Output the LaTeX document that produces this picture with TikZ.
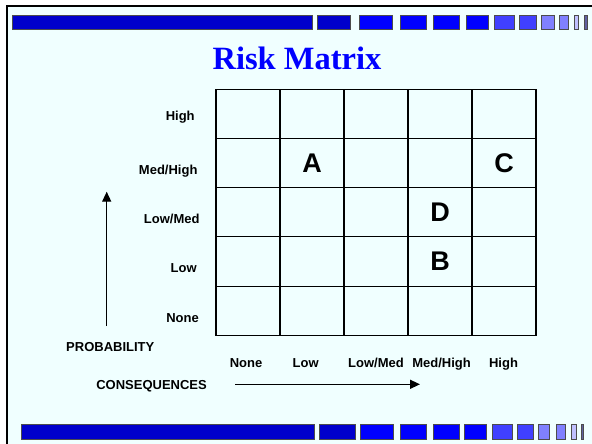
\documentclass[tikz,border=0pt]{standalone}
\usepackage{fontspec}
\setmainfont{Liberation Serif}
\setsansfont{Liberation Sans}
\usetikzlibrary{arrows.meta}
\definecolor{bg}{RGB}{240,255,255}
\definecolor{bdark}{RGB}{0,0,204}
\definecolor{bfull}{RGB}{0,0,255}
\definecolor{bmid}{RGB}{64,64,255}
\definecolor{blight}{RGB}{128,128,255}
\definecolor{bpale}{RGB}{192,192,255}
\definecolor{bgray}{RGB}{96,96,160}
\tikzset{
  barbox/.style={draw=black!70,line width=0.8pt},
  cell/.style={draw=black,line width=1.1pt,minimum width=64pt,minimum height=49.2pt,inner sep=0pt},
  letter/.style={font=\sffamily\bfseries\fontsize{27}{30}\selectfont,inner sep=0pt},
  lab/.style={font=\sffamily\bfseries\fontsize{13}{15}\selectfont,inner sep=0pt,anchor=base},
  axisarrow/.style={line width=1.4pt,-{Triangle[length=10pt,width=9pt]}},
  titletext/.style={font=\rmfamily\bfseries\fontsize{32.5}{36}\selectfont,text=bfull,inner sep=0pt,anchor=base}
}
\begin{document}
\begin{tikzpicture}[x=1pt,y=-1pt]
\useasboundingbox (0,0) rectangle (592,444);
\fill[white] (0,0) rectangle (592,444);
\fill[bg] (6,5) rectangle (592,444);
\draw[line width=2pt] (7,444) -- (7,6) -- (592,6);
% top bar
\foreach \a/\b/\c in {12/312/bdark,317/350/bdark,359/392/bfull,400/426/bfull,433/459/bfull,466/488/bfull,494/514/bmid,519/536/bmid,541/554/blight,559/568/blight,574/578/bpale,584/587/bgray}
  \draw[barbox,fill=\c] (\a,15) rectangle (\b,29);
% bottom bar
\foreach \a/\b/\c in {21/314/bdark,319/355/bdark,360/393/bfull,400/426/bfull,433/459/bfull,464/486/bfull,492/512/bmid,517/533/bmid,538/549/blight,556/565/blight,571/576/bpale,581/583/bgray}
  \draw[barbox,fill=\c] (\a,424) rectangle (\b,439);
% title
\node[titletext] (title) at (297,70) {Risk Matrix};
% grid
\foreach \r in {1,...,5}
  \foreach \c in {1,...,5}
    \node[cell] (c\r\c) at ({216+64*(\c-0.5)},{89.3+49.2*(\r-0.5)}) {};
\node[letter] (A) at (c22.center) {A};
\node[letter] (C) at (c25.center) {C};
\node[letter] (D) at (c34.center) {D};
\node[letter] (B) at (c44.center) {B};
% row labels
\node[lab] (rh) at (180.2,120.4) {High};
\node[lab] (rmh) at (168.2,174) {Med/High};
\node[lab] (rlm) at (171.7,223) {Low/Med};
\node[lab] (rl) at (183.7,272) {Low};
\node[lab] (rn) at (182.5,322) {None};
\node[lab] (prob) at (110.3,351.5) {PROBABILITY};
% column labels
\node[lab] (cn) at (246,367) {None};
\node[lab] (cl) at (305.7,367) {Low};
\node[lab] (clm) at (376,367) {Low/Med};
\node[lab] (cmh) at (441.5,367) {Med/High};
\node[lab] (ch) at (503.5,367) {High};
\node[lab,anchor=base east] (cons) at (207,389) {CONSEQUENCES};
% arrows
\coordinate (pbot) at (106.7,326);
\coordinate (ptop) at (106.7,191.7);
\draw[axisarrow] (pbot) -- (ptop);
\coordinate (cleft) at (235,384.3);
\coordinate (cright) at (420,384.3);
\draw[axisarrow] (cleft) -- (cright);
\end{tikzpicture}
\end{document}
